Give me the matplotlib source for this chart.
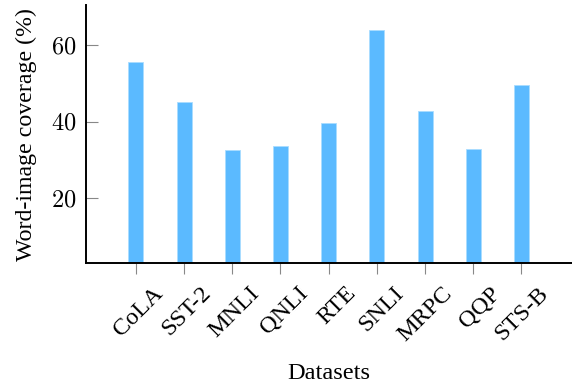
import matplotlib

matplotlib.use("Agg")
import matplotlib.pyplot as plt
import matplotlib.transforms as mtransforms

# ---------------------------------------------------------------------------
# Data
# ---------------------------------------------------------------------------

datasets = ["CoLA", "SST-2", "MNLI", "QNLI", "RTE", "SNLI", "MRPC", "QQP", "STS-B"]
coverage = [55.6, 45.1, 32.5, 33.6, 39.6, 63.9, 42.9, 32.8, 49.5]
y_ticks = [20, 40, 60]

BAR_COLOR = "#5bbaff"

plt.rcParams["font.family"] = ["Liberation Serif", "DejaVu Serif"]
plt.rcParams["mathtext.fontset"] = "cm"

fig = plt.figure(figsize=(5.72, 3.87), dpi=100)
ax = fig.add_axes([0.150, 0.320, 0.850, 0.667])

x = list(range(len(datasets)))
ax.bar(x, coverage, width=0.31, color=BAR_COLOR, edgecolor="#a9dcff", linewidth=0.6)

ax.set_xlim(-1.04, 9.05)
ax.set_ylim(3, 70.5)

ax.tick_params(axis="y", direction="in", length=8.5, width=0.8, color="#888888", pad=7)
ax.tick_params(axis="x", direction="out", length=8, width=0.8, color="#888888", pad=2)

ax.set_yticks(y_ticks)
ax.set_yticklabels([f"${t}$" for t in y_ticks], fontsize=17.5)
ax.set_xticks(x)
ax.set_xticklabels(datasets, fontsize=17.5, rotation=45, ha="right", va="center",
                   rotation_mode="anchor")
# shift rotated labels so their ends sit right of and below the ticks
offset = mtransforms.ScaledTranslation(0.24, -0.13, fig.dpi_scale_trans)
for lbl in ax.get_xticklabels():
    lbl.set_transform(lbl.get_transform() + offset)

ax.spines[["top", "right"]].set_visible(False)
ax.spines["left"].set_linewidth(1.4)
ax.spines["bottom"].set_linewidth(1.4)

ax.set_ylabel("Word-image coverage (%)", fontsize=17.2, labelpad=10)
ax.set_xlabel("Datasets", fontsize=17.5, labelpad=13)

fig.savefig("out.png", dpi=100)
